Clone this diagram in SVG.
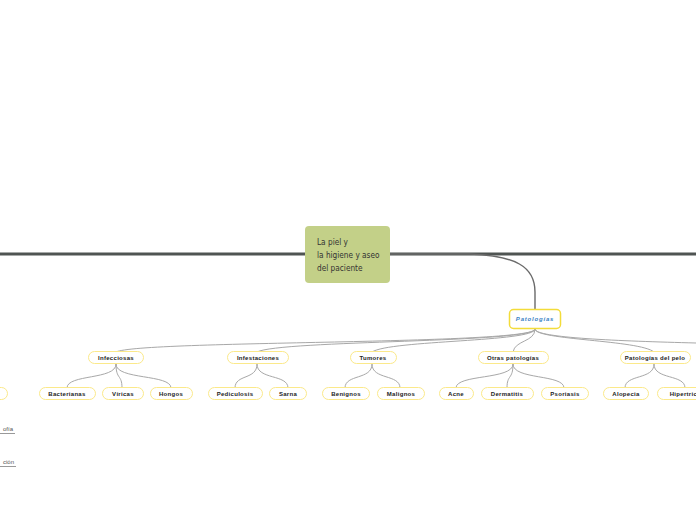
<svg xmlns="http://www.w3.org/2000/svg" width="696" height="520" viewBox="0 0 696 520">
<style>
.main{fill:none;stroke:#4f5452;stroke-width:3;stroke-linecap:butt}
.c1{fill:none;stroke:#6a6a6a;stroke-width:1.4}
.c2{fill:none;stroke:#a8a8a8;stroke-width:1}
.n{fill:#fff;stroke:#fbe98a;stroke-width:1}
.t{font-family:"Liberation Sans",Arial,sans-serif;font-size:6px;font-weight:bold;fill:#222;text-anchor:middle;letter-spacing:0.3px}
.u{font-family:"Liberation Sans",Arial,sans-serif;font-size:6px;fill:#555}
</style>
<rect width="696" height="520" fill="#fff"/>
<g id="connectors">
<path class="main" d="M0,254 L306,254"/>
<path class="main" d="M389,254 L696,254"/>
<path class="c1" d="M390,254 L470,254 C515,256 535,266 535,292 L535,309"/>
<path class="c2" d="M535,329 C535,345 140,340 116,352"/>
<path class="c2" d="M535,329 C535,343 280,340 257,352"/>
<path class="c2" d="M535,329 C535,342 390,340 372,352"/>
<path class="c2" d="M535,329 C535,342 515,340 513,352"/>
<path class="c2" d="M535,329 C535,340 640,340 654,352"/>
<path class="c2" d="M535,329 C535,338 620,341 696,343"/>
<path class="c2" d="M116,364 C116,380 67,374 67,388"/>
<path class="c2" d="M116,364 C116,380 122,374 122,388"/>
<path class="c2" d="M116,364 C116,380 171,374 171,388"/>
<path class="c2" d="M257,364 C257,380 235,374 235,388"/>
<path class="c2" d="M257,364 C257,380 288,374 288,388"/>
<path class="c2" d="M372,364 C372,380 345,374 345,388"/>
<path class="c2" d="M372,364 C372,380 400,374 400,388"/>
<path class="c2" d="M513,364 C513,380 456,374 456,388"/>
<path class="c2" d="M513,364 C513,380 507,374 507,388"/>
<path class="c2" d="M513,364 C513,380 564,374 564,388"/>
<path class="c2" d="M654,364 C654,380 625,374 625,388"/>
<path class="c2" d="M654,364 C654,380 685,374 685,388"/>
<line x1="0" y1="433.5" x2="15" y2="433.5" stroke="#999" stroke-width="1"/>
<line x1="0" y1="466.5" x2="16" y2="466.5" stroke="#999" stroke-width="1"/>
</g>
<g id="root">
<rect x="305" y="226" width="85" height="57" rx="4" fill="#c3d088"/>
<text font-family="'DejaVu Sans',sans-serif" font-stretch="condensed" font-size="8.2" fill="#333">
<tspan x="317" y="245">La piel y</tspan>
<tspan x="317" y="258">la higiene y aseo</tspan>
<tspan x="317" y="271">del paciente</tspan>
</text>
</g>
<g id="patologias">
<rect x="509.5" y="309.5" width="51" height="19" rx="4" fill="#fff" stroke="#f3dc3a" stroke-width="1.5"/>
<text x="535" y="321" font-family="'Liberation Sans',Arial,sans-serif" font-size="6" font-style="italic" font-weight="bold" fill="#3a82c4" text-anchor="middle" letter-spacing="0.8">Patologías</text>
</g>
<g id="infecciosas"><rect class="n" x="88.5" y="351.5" width="55" height="12" rx="6"/><text class="t" x="116" y="359.5">Infecciosas</text></g>
<g id="infestaciones"><rect class="n" x="227.5" y="351.5" width="61" height="12" rx="6"/><text class="t" x="258" y="359.5">Infestaciones</text></g>
<g id="tumores"><rect class="n" x="350.5" y="351.5" width="46" height="12" rx="6"/><text class="t" x="373" y="359.5">Tumores</text></g>
<g id="otras"><rect class="n" x="478.5" y="351.5" width="70" height="12" rx="6"/><text class="t" x="513" y="359.5">Otras patologías</text></g>
<g id="pelo"><rect class="n" x="620.5" y="351.5" width="70" height="12" rx="6"/><text class="t" x="655" y="359.5">Patologías del pelo</text></g>
<g id="bacterianas"><rect class="n" x="39.5" y="387.5" width="56" height="12" rx="6"/><text class="t" x="67" y="395.5">Bacterianas</text></g>
<g id="viricas"><rect class="n" x="102.5" y="387.5" width="41" height="12" rx="6"/><text class="t" x="123" y="395.5">Víricas</text></g>
<g id="hongos"><rect class="n" x="150.5" y="387.5" width="42" height="12" rx="6"/><text class="t" x="171" y="395.5">Hongos</text></g>
<g id="pediculosis"><rect class="n" x="208.5" y="387.5" width="54" height="12" rx="6"/><text class="t" x="235" y="395.5">Pediculosis</text></g>
<g id="sarna"><rect class="n" x="269.5" y="387.5" width="37" height="12" rx="6"/><text class="t" x="288" y="395.5">Sarna</text></g>
<g id="benignos"><rect class="n" x="322.5" y="387.5" width="47" height="12" rx="6"/><text class="t" x="346" y="395.5">Benignos</text></g>
<g id="malignos"><rect class="n" x="377.5" y="387.5" width="47" height="12" rx="6"/><text class="t" x="401" y="395.5">Malignos</text></g>
<g id="acne"><rect class="n" x="439.5" y="387.5" width="34" height="12" rx="6"/><text class="t" x="456" y="395.5">Acne</text></g>
<g id="dermatitis"><rect class="n" x="481.5" y="387.5" width="52" height="12" rx="6"/><text class="t" x="507" y="395.5">Dermatitis</text></g>
<g id="psoriasis"><rect class="n" x="541.5" y="387.5" width="47" height="12" rx="6"/><text class="t" x="565" y="395.5">Psoriasis</text></g>
<g id="alopecia"><rect class="n" x="603.5" y="387.5" width="45" height="12" rx="6"/><text class="t" x="626" y="395.5">Alopecia</text></g>
<g id="hipertricosis"><rect class="n" x="657.5" y="387.5" width="66" height="12" rx="6"/><text class="t" x="690" y="395.5">Hipertricosis</text></g>
<g id="left-node"><rect class="n" x="-40.5" y="387.5" width="48" height="12" rx="6"/></g>
<g id="left-text-1"><text class="u" x="13" y="431" text-anchor="end">ofía</text></g>
<g id="left-text-2"><text class="u" x="14" y="464" text-anchor="end">ción</text></g>
</svg>
